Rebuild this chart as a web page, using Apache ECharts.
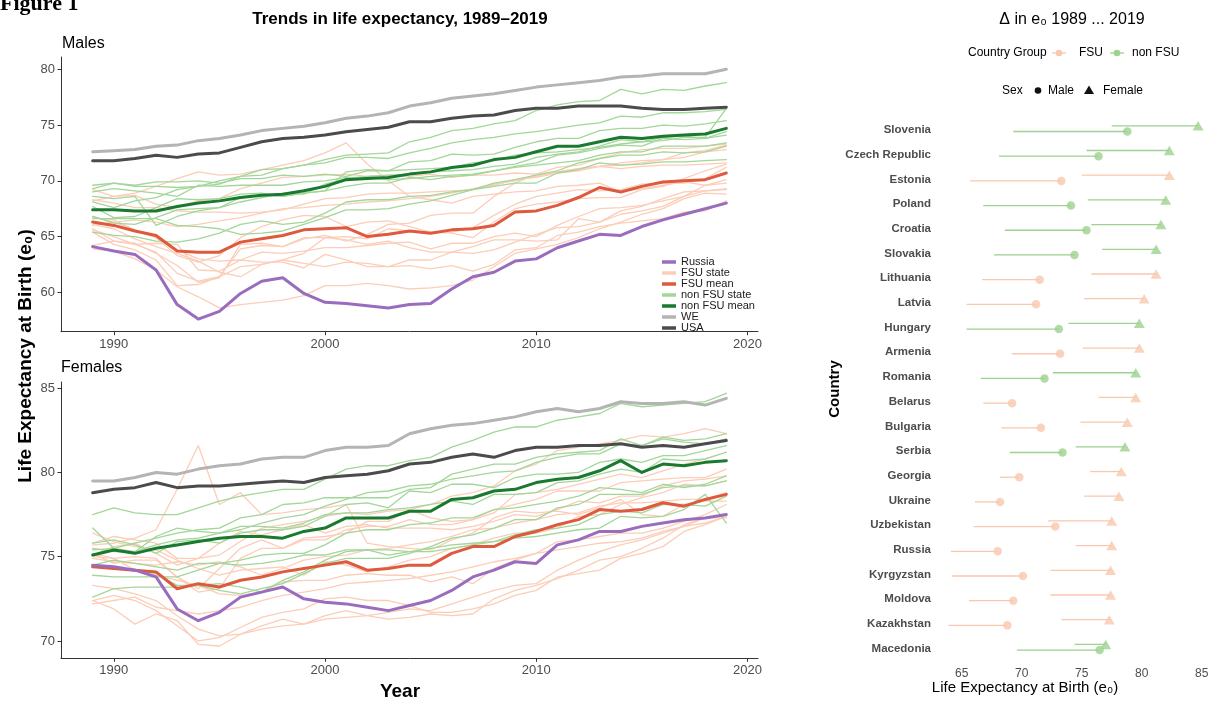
<!DOCTYPE html>
<html>
<head>
<meta charset="utf-8">
<script src="https://cdn.jsdelivr.net/npm/echarts@6/dist/echarts.min.js"></script>
<style>
html, body { margin: 0; padding: 0; background: #ffffff; }
#chart { width: 1216px; height: 702px; }
</style>
</head>
<body>
<div id="chart"></div>
<script>
// Years covered by every series
const years = [1989, 1990, 1991, 1992, 1993, 1994, 1995, 1996, 1997, 1998,
  1999, 2000, 2001, 2002, 2003, 2004, 2005, 2006, 2007, 2008,
  2009, 2010, 2011, 2012, 2013, 2014, 2015, 2016, 2017, 2018, 2019];

// Highlighted series (life expectancy at birth, years)
const russiaMale = [64.1, 63.7, 63.4, 62.0, 58.9, 57.6, 58.3, 59.9, 61.0, 61.3,
  59.9, 59.1, 59.0, 58.8, 58.6, 58.9, 59.0, 60.3, 61.4, 61.8,
  62.8, 63.0, 64.0, 64.6, 65.2, 65.1, 65.9, 66.5, 67.0, 67.5, 68.0];
const russiaFemale = [74.5, 74.4, 74.2, 73.8, 71.9, 71.2, 71.7, 72.6, 72.9, 73.2,
  72.5, 72.3, 72.2, 72.0, 71.8, 72.1, 72.4, 73.0, 73.8, 74.2,
  74.7, 74.6, 75.7, 76.0, 76.5, 76.5, 76.8, 77.0, 77.2, 77.3, 77.5];
const fsuMeanMale = [66.3, 66.0, 65.5, 65.1, 63.7, 63.6, 63.6, 64.5, 64.8, 65.1,
  65.6, 65.7, 65.8, 65.0, 65.2, 65.5, 65.3, 65.6, 65.7, 66.0,
  67.2, 67.3, 67.8, 68.5, 69.4, 69.0, 69.5, 69.9, 70.0, 70.1, 70.7];
const fsuMeanFemale = [74.4, 74.3, 74.2, 74.1, 73.1, 73.4, 73.2, 73.6, 73.8, 74.1,
  74.3, 74.5, 74.7, 74.2, 74.3, 74.5, 74.5, 75.2, 75.6, 75.6,
  76.2, 76.5, 76.9, 77.2, 77.8, 77.7, 77.8, 78.2, 78.0, 78.4, 78.7];
const nonFsuMeanMale = [67.4, 67.4, 67.3, 67.3, 67.7, 68.0, 68.2, 68.5, 68.7, 68.8,
  69.1, 69.5, 70.1, 70.2, 70.3, 70.6, 70.8, 71.2, 71.4, 71.9,
  72.1, 72.6, 73.1, 73.1, 73.5, 73.9, 73.8, 74.0, 74.1, 74.2, 74.7];
const nonFsuMeanFemale = [75.1, 75.4, 75.2, 75.5, 75.7, 75.9, 76.1, 76.2, 76.2, 76.1,
  76.5, 76.7, 77.3, 77.3, 77.3, 77.7, 77.7, 78.4, 78.5, 78.9,
  79.0, 79.4, 79.6, 79.7, 80.1, 80.7, 80.0, 80.5, 80.4, 80.6, 80.7];
const weMale = [72.6, 72.7, 72.8, 73.1, 73.2, 73.6, 73.8, 74.1, 74.5, 74.7,
  74.9, 75.2, 75.6, 75.8, 76.1, 76.7, 77.0, 77.4, 77.6, 77.8,
  78.1, 78.4, 78.6, 78.8, 79.0, 79.3, 79.4, 79.6, 79.6, 79.6, 80.0];
const weFemale = [79.5, 79.5, 79.7, 80.0, 79.9, 80.2, 80.4, 80.5, 80.8, 80.9,
  80.9, 81.3, 81.5, 81.5, 81.6, 82.3, 82.6, 82.8, 82.9, 83.1,
  83.3, 83.6, 83.8, 83.6, 83.8, 84.2, 84.1, 84.1, 84.2, 84.0, 84.4];
const usaMale = [71.8, 71.8, 72.0, 72.3, 72.1, 72.4, 72.5, 73.0, 73.5, 73.8,
  73.9, 74.1, 74.4, 74.6, 74.8, 75.3, 75.3, 75.6, 75.8, 75.9,
  76.3, 76.5, 76.5, 76.7, 76.7, 76.7, 76.5, 76.4, 76.4, 76.5, 76.6];
const usaFemale = [78.8, 79.0, 79.1, 79.4, 79.1, 79.2, 79.2, 79.3, 79.4, 79.5,
  79.4, 79.7, 79.8, 79.9, 80.1, 80.5, 80.6, 80.9, 81.1, 80.9,
  81.3, 81.5, 81.5, 81.6, 81.6, 81.7, 81.5, 81.6, 81.5, 81.7, 81.9];

// Former Soviet Union (and grouped) states
const estoniaMale = [65.7, 64.6, 64.4, 63.5, 62.4, 60.9, 61.3, 64.3, 64.4, 64.1,
  64.8, 65.1, 64.6, 65.2, 66.1, 66.2, 66.9, 67.1, 67.1, 68.6,
  69.8, 70.6, 71.2, 71.4, 72.0, 72.5, 72.8, 72.9, 72.9, 73.1, 73.3];
const estoniaFemale = [75.0, 74.9, 75.0, 74.9, 73.8, 73.1, 74.3, 75.5, 76.0, 75.5,
  76.1, 76.2, 76.4, 77.1, 77.1, 77.8, 78.1, 78.6, 78.8, 79.2,
  80.1, 80.5, 81.3, 81.5, 81.7, 81.9, 82.2, 82.1, 82.3, 82.6, 82.3];
const lithuaniaMale = [66.7, 66.5, 65.6, 64.9, 63.3, 62.7, 63.3, 64.9, 65.9, 66.5,
  66.9, 66.8, 65.9, 66.3, 66.4, 65.9, 65.4, 65.3, 64.9, 66.3,
  67.5, 67.9, 68.1, 68.4, 68.5, 68.5, 69.2, 69.5, 70.2, 70.9, 71.5];
const lithuaniaFemale = [75.8, 76.2, 76.0, 75.8, 74.9, 74.9, 75.1, 75.9, 76.7, 76.9,
  77.1, 77.4, 77.6, 77.5, 77.7, 77.8, 77.3, 77.1, 77.2, 77.6,
  78.7, 78.8, 79.0, 79.3, 79.6, 79.9, 79.7, 80.1, 80.5, 80.8, 81.2];
const latviaMale = [65.4, 64.3, 63.8, 62.9, 60.6, 60.7, 61.4, 63.9, 64.2, 64.1,
  64.9, 64.9, 65.0, 64.8, 65.7, 65.5, 65.4, 65.4, 65.8, 66.9,
  67.9, 68.6, 68.9, 69.2, 69.1, 69.2, 69.7, 69.8, 69.8, 70.2, 71.2];
const latviaFemale = [75.2, 74.6, 74.8, 74.8, 73.8, 72.9, 73.1, 74.9, 75.5, 75.5,
  76.0, 76.0, 76.6, 76.8, 76.8, 77.2, 76.9, 76.9, 77.2, 77.8,
  78.1, 78.4, 78.9, 78.9, 78.9, 79.4, 79.5, 79.6, 79.7, 79.7, 80.2];
const armeniaMale = [69.2, 68.6, 68.7, 67.9, 67.6, 68.2, 68.4, 69.3, 69.8, 70.3,
  70.4, 70.5, 70.6, 70.4, 70.5, 70.4, 70.6, 70.3, 70.5, 70.5,
  70.7, 70.6, 70.8, 71.1, 71.3, 71.4, 71.6, 71.9, 72.5, 72.7, 73.2];
const armeniaFemale = [75.1, 75.6, 75.8, 75.2, 74.5, 74.9, 75.8, 76.5, 76.3, 76.6,
  76.9, 76.4, 76.8, 76.9, 76.7, 76.7, 76.7, 76.6, 76.8, 77.1,
  77.5, 77.4, 77.8, 78.3, 78.2, 78.6, 78.6, 79.2, 79.5, 79.6, 79.8];
const belarusMale = [66.8, 66.3, 65.6, 64.9, 63.8, 63.0, 62.8, 62.9, 62.7, 62.7,
  62.2, 63.4, 62.9, 62.3, 62.3, 62.9, 62.9, 63.6, 64.1, 64.7,
  64.7, 64.6, 64.7, 66.6, 66.3, 67.3, 67.7, 68.4, 69.0, 69.1, 69.2];
const belarusFemale = [76.4, 75.9, 75.6, 75.4, 74.8, 74.3, 73.9, 74.2, 74.3, 74.4,
  73.9, 74.7, 74.5, 74.1, 74.4, 74.8, 75.0, 75.5, 75.7, 76.1,
  76.4, 76.4, 76.7, 77.4, 77.5, 78.1, 78.5, 78.8, 79.3, 79.2, 79.5];
const bulgariaMale = [68.3, 68.0, 67.6, 67.6, 67.3, 67.2, 67.2, 67.1, 67.2, 67.4,
  67.9, 68.4, 68.5, 68.8, 68.9, 68.9, 69.0, 69.1, 69.2, 69.6,
  70.1, 70.3, 70.7, 70.9, 71.3, 71.1, 71.3, 71.4, 71.4, 71.5, 71.6];
const bulgariaFemale = [74.9, 74.7, 74.6, 74.5, 74.7, 74.5, 74.7, 74.4, 73.9, 74.3,
  74.8, 75.0, 75.1, 75.4, 75.5, 75.7, 75.9, 76.2, 76.6, 76.7,
  77.0, 77.2, 77.5, 77.6, 78.0, 78.2, 78.2, 78.3, 78.4, 78.4, 78.8];
const georgiaMale = [68.2, 68.6, 68.9, 69.5, 70.2, 70.8, 70.5, 70.6, 71.0, 71.4,
  71.8, 72.5, 73.4, 71.5, 70.0, 68.6, 68.3, 68.0, 68.6, 68.8,
  69.0, 69.1, 69.5, 69.6, 69.8, 69.0, 69.3, 69.6, 69.9, 69.6, 69.8];
const georgiaFemale = [75.7, 75.8, 76.1, 76.6, 79.0, 81.6, 78.1, 78.8, 77.5, 77.6,
  77.8, 77.9, 78.1, 75.8, 75.6, 75.5, 75.4, 76.0, 76.4, 77.3,
  77.7, 77.6, 77.7, 77.5, 77.9, 78.4, 77.5, 77.4, 78.1, 78.3, 78.3];
const ukraineMale = [66.1, 65.7, 64.8, 64.1, 63.5, 62.8, 61.8, 61.4, 62.5, 62.9,
  62.6, 62.3, 62.7, 62.6, 62.3, 62.4, 62.1, 62.4, 61.9, 62.5,
  63.8, 64.0, 65.1, 65.4, 65.9, 66.2, 66.4, 66.6, 67.2, 67.3, 68.2];
const ukraineFemale = [75.2, 74.9, 74.2, 73.9, 73.6, 73.3, 72.8, 72.7, 72.9, 73.5,
  73.6, 73.6, 73.9, 74.0, 73.9, 73.9, 73.5, 73.8, 73.4, 74.3,
  74.8, 75.2, 75.9, 76.0, 76.2, 76.4, 76.4, 76.7, 77.1, 77.5, 78.1];
const uzbekistanMale = [66.0, 66.3, 66.5, 66.3, 65.9, 66.1, 66.4, 66.7, 67.1, 67.5,
  67.6, 67.8, 67.9, 68.1, 68.2, 68.4, 68.6, 68.9, 69.3, 69.7,
  70.0, 70.4, 70.8, 71.1, 71.3, 71.6, 71.8, 71.9, 72.1, 72.6, 72.8];
const uzbekistanFemale = [72.2, 72.4, 72.6, 72.0, 71.8, 71.6, 71.8, 72.0, 72.4, 72.7,
  72.9, 73.1, 73.4, 73.5, 73.6, 73.7, 73.9, 74.1, 74.4, 74.7,
  74.9, 75.2, 75.4, 75.6, 75.8, 75.9, 76.1, 76.5, 76.8, 77.3, 77.5];
const kyrgyzstanMale = [64.2, 64.6, 64.3, 63.6, 61.7, 61.0, 61.4, 62.3, 62.5, 62.9,
  63.5, 64.9, 64.7, 64.3, 64.6, 64.0, 63.6, 63.6, 63.5, 63.8,
  64.5, 65.2, 65.8, 65.9, 66.3, 67.0, 67.3, 67.7, 68.6, 69.6, 70.1];
const kyrgyzstanFemale = [72.4, 72.7, 72.4, 71.8, 70.9, 70.0, 70.2, 70.8, 71.4, 71.7,
  71.9, 72.5, 72.6, 72.4, 72.4, 72.1, 71.7, 71.7, 71.9, 72.2,
  72.7, 73.0, 73.8, 74.0, 74.2, 74.9, 75.2, 75.6, 76.5, 76.9, 77.4];
const moldovaMale = [65.6, 65.0, 64.3, 64.4, 64.3, 62.0, 61.9, 62.9, 63.6, 63.5,
  63.7, 64.0, 64.0, 64.2, 64.4, 64.5, 63.9, 64.4, 64.4, 65.0,
  65.3, 65.0, 66.0, 66.8, 67.5, 67.6, 67.8, 68.2, 68.6, 69.1, 69.3];
const moldovaFemale = [72.4, 71.9, 71.0, 71.6, 71.2, 69.8, 69.7, 70.4, 70.9, 71.3,
  71.0, 71.3, 71.4, 71.5, 71.7, 71.9, 71.8, 72.2, 72.6, 73.0,
  73.3, 73.4, 74.2, 74.8, 75.3, 75.7, 76.0, 76.4, 76.8, 77.0, 77.4];
const kazakhstanMale = [63.9, 63.7, 63.0, 62.0, 60.5, 59.6, 58.6, 58.9, 59.1, 59.3,
  59.7, 60.6, 60.6, 60.8, 60.6, 60.3, 60.4, 60.6, 61.1, 62.3,
  63.5, 63.9, 64.3, 64.9, 65.7, 66.3, 67.0, 67.5, 68.4, 68.9, 68.8];
const kazakhstanFemale = [73.3, 73.1, 72.8, 72.4, 71.5, 70.7, 70.3, 70.4, 70.7, 70.9,
  71.0, 71.5, 71.8, 71.5, 71.3, 71.4, 71.6, 71.5, 71.6, 72.5,
  73.0, 73.3, 73.7, 74.2, 74.8, 75.0, 75.5, 76.1, 76.9, 77.3, 77.3];

// Central and Eastern European states outside the FSU group
const sloveniaMale = [69.3, 69.8, 69.5, 69.5, 69.4, 69.5, 70.0, 70.4, 71.0, 71.1,
  71.4, 71.9, 72.3, 72.4, 72.5, 73.5, 73.9, 74.5, 74.7, 75.1,
  75.4, 76.3, 76.8, 77.1, 77.2, 78.2, 77.8, 78.2, 78.1, 78.5, 78.8];
const sloveniaFemale = [77.5, 77.9, 77.6, 77.5, 77.5, 77.9, 78.3, 78.6, 78.8, 79.0,
  79.0, 79.6, 80.2, 80.4, 80.4, 80.7, 80.9, 81.5, 81.9, 82.4,
  82.7, 82.7, 83.1, 83.3, 83.5, 84.1, 83.9, 84.0, 84.1, 84.2, 84.7];
const czechMale = [68.1, 67.6, 68.2, 68.5, 69.2, 69.5, 69.7, 70.4, 70.5, 71.1,
  71.4, 71.6, 72.1, 72.1, 72.0, 72.5, 72.9, 73.4, 73.7, 73.9,
  74.2, 74.4, 74.7, 75.0, 75.2, 75.8, 75.7, 76.1, 76.1, 76.2, 76.4];
const czechFemale = [75.4, 75.5, 75.8, 76.1, 76.4, 76.6, 76.7, 77.3, 77.5, 78.1,
  78.2, 78.5, 78.5, 78.5, 78.5, 79.0, 79.1, 79.9, 80.2, 80.5,
  80.5, 80.9, 81.1, 81.2, 81.3, 82.0, 81.6, 82.1, 81.9, 82.0, 82.3];
const polandMale = [66.8, 66.2, 66.1, 66.7, 67.4, 67.5, 67.6, 68.1, 68.5, 68.9,
  68.8, 69.7, 70.2, 70.4, 70.5, 70.6, 70.8, 70.9, 71.0, 71.3,
  71.5, 72.1, 72.4, 72.6, 73.1, 73.7, 73.5, 73.9, 74.0, 73.8, 74.1];
const polandFemale = [75.5, 75.3, 75.3, 75.7, 76.0, 76.1, 76.4, 76.6, 77.0, 77.3,
  77.5, 78.0, 78.4, 78.8, 78.9, 79.2, 79.3, 79.6, 79.8, 80.0,
  80.1, 80.6, 80.9, 81.1, 81.1, 81.7, 81.6, 82.0, 81.8, 81.7, 82.0];
const croatiaMale = [68.6, 68.4, 68.6, 66.0, 66.8, 67.3, 67.6, 68.5, 68.7, 68.6,
  68.9, 69.1, 70.8, 71.0, 70.9, 71.7, 71.8, 72.4, 72.3, 72.4,
  73.0, 73.5, 73.8, 73.8, 74.5, 74.7, 74.7, 75.0, 74.9, 75.1, 75.4];
const croatiaFemale = [75.8, 76.0, 75.7, 75.2, 75.9, 76.0, 75.8, 76.4, 76.6, 76.6,
  76.8, 77.4, 78.1, 78.2, 77.9, 78.9, 78.8, 79.3, 79.3, 79.1,
  79.7, 79.9, 79.9, 80.0, 80.6, 80.8, 80.6, 81.0, 81.0, 81.3, 81.6];
const slovakiaMale = [67.7, 66.7, 66.8, 67.6, 68.4, 68.3, 68.4, 68.8, 68.9, 68.6,
  68.9, 69.1, 69.5, 69.8, 69.8, 70.3, 70.1, 70.4, 70.5, 70.9,
  71.3, 71.6, 72.3, 72.5, 72.9, 73.2, 73.1, 73.8, 73.7, 73.8, 74.4];
const slovakiaFemale = [76.7, 75.5, 75.3, 76.2, 76.7, 76.5, 76.4, 76.8, 76.8, 76.7,
  77.0, 77.5, 77.6, 77.6, 77.8, 77.9, 78.1, 78.3, 78.1, 78.7,
  78.7, 78.8, 79.4, 79.5, 79.9, 80.2, 80.0, 80.8, 80.7, 80.8, 81.2];
const hungaryMale = [65.4, 65.1, 65.0, 64.6, 64.5, 64.8, 65.3, 66.1, 66.4, 66.1,
  66.3, 67.1, 68.1, 68.3, 68.3, 68.6, 68.7, 69.0, 69.2, 69.8,
  70.1, 70.5, 70.9, 71.6, 72.0, 72.3, 72.3, 72.6, 72.5, 72.6, 73.1];
const hungaryFemale = [73.9, 73.8, 73.8, 73.8, 73.8, 74.2, 74.6, 74.8, 75.1, 75.2,
  75.2, 75.7, 76.4, 76.6, 76.6, 76.9, 77.0, 77.3, 77.3, 77.8,
  77.9, 78.1, 78.3, 78.6, 79.1, 79.0, 78.8, 79.3, 79.1, 79.3, 79.8];
const romaniaMale = [66.6, 66.6, 66.6, 66.6, 66.0, 65.9, 65.7, 65.2, 65.3, 65.5,
  66.1, 66.7, 67.4, 67.4, 67.5, 67.9, 68.2, 68.7, 69.2, 69.5,
  69.8, 69.8, 70.7, 71.0, 71.6, 71.4, 71.5, 71.7, 71.7, 71.8, 71.9];
const romaniaFemale = [72.6, 73.1, 73.2, 73.2, 73.2, 73.3, 73.0, 72.8, 73.1, 73.4,
  74.0, 74.6, 74.9, 74.9, 74.9, 75.2, 75.6, 76.1, 76.3, 76.7,
  77.2, 77.2, 77.9, 78.1, 78.7, 78.7, 78.7, 79.1, 79.2, 79.2, 79.5];
const serbiaMale = [69.0, 69.3, 69.1, 68.9, 68.6, 69.6, 69.5, 69.6, 69.6, 69.6,
  69.9, 70.0, 70.3, 70.3, 70.1, 70.2, 70.4, 70.5, 70.6, 70.9,
  71.2, 71.4, 71.6, 71.8, 72.3, 72.6, 72.6, 73.1, 73.1, 73.1, 73.4];
const serbiaFemale = [74.5, 74.8, 74.6, 74.4, 74.2, 74.6, 74.6, 74.5, 74.6, 74.8,
  75.1, 75.1, 75.4, 75.4, 75.4, 75.3, 75.3, 75.5, 75.7, 75.9,
  76.3, 76.6, 76.7, 76.9, 77.5, 77.7, 77.6, 78.1, 78.1, 78.0, 78.6];
const macedoniaMale = [69.6, 69.8, 69.6, 69.9, 69.9, 70.0, 69.8, 70.2, 70.2, 70.5,
  70.4, 70.6, 70.4, 70.9, 70.9, 71.0, 71.1, 71.2, 71.6, 71.8,
  72.3, 72.5, 72.6, 72.8, 73.0, 73.3, 73.5, 73.6, 73.9, 73.9, 76.5];
const macedoniaFemale = [74.4, 74.3, 74.2, 74.0, 73.3, 73.3, 73.4, 73.2, 72.9, 73.6,
  74.1, 74.8, 75.3, 75.4, 75.1, 75.3, 75.5, 75.7, 75.8, 75.9,
  76.1, 76.2, 76.4, 76.6, 76.7, 77.4, 77.3, 77.4, 77.8, 78.7, 77.0];

// Country order in the change panel (top to bottom) and group membership
const countryNames = ['Slovenia', 'Czech Republic', 'Estonia', 'Poland', 'Croatia', 'Slovakia',
  'Lithuania', 'Latvia', 'Hungary', 'Armenia', 'Romania', 'Belarus', 'Bulgaria', 'Serbia',
  'Georgia', 'Ukraine', 'Uzbekistan', 'Russia', 'Kyrgyzstan', 'Moldova', 'Kazakhstan', 'Macedonia'];
const countryGroups = ['non FSU', 'non FSU', 'FSU', 'non FSU', 'non FSU', 'non FSU',
  'FSU', 'FSU', 'non FSU', 'FSU', 'non FSU', 'FSU', 'FSU', 'non FSU',
  'FSU', 'FSU', 'FSU', 'FSU', 'FSU', 'FSU', 'FSU', 'non FSU'];
const maleSeries = [sloveniaMale, czechMale, estoniaMale, polandMale, croatiaMale, slovakiaMale,
  lithuaniaMale, latviaMale, hungaryMale, armeniaMale, romaniaMale, belarusMale, bulgariaMale, serbiaMale,
  georgiaMale, ukraineMale, uzbekistanMale, russiaMale, kyrgyzstanMale, moldovaMale, kazakhstanMale, macedoniaMale];
const femaleSeries = [sloveniaFemale, czechFemale, estoniaFemale, polandFemale, croatiaFemale, slovakiaFemale,
  lithuaniaFemale, latviaFemale, hungaryFemale, armeniaFemale, romaniaFemale, belarusFemale, bulgariaFemale, serbiaFemale,
  georgiaFemale, ukraineFemale, uzbekistanFemale, russiaFemale, kyrgyzstanFemale, moldovaFemale, kazakhstanFemale, macedoniaFemale];

const legendNames = ['Russia', 'FSU state', 'FSU mean', 'non FSU state', 'non FSU mean', 'WE', 'USA'];
const yearTicks = [1990, 2000, 2010, 2020];
const maleTicks = [60, 65, 70, 75, 80];
const femaleTicks = [70, 75, 80, 85];
const changeTicks = [65, 70, 75, 80, 85];

// ---------- styling ----------
const FONT = '"Liberation Sans", Arial, Helvetica, sans-serif';
const COL = {
  russia: '#9a6cbe',
  fsuState: '#fccdb8',
  fsuMean: '#dd5a3e',
  nonState: '#a3d699',
  nonMean: '#18792f',
  we: '#b4b4b4',
  usa: '#4b4b4b'
};
const DOT = { 'FSU': '#f9c8ae', 'non FSU': '#9dd28f' };

function toPoints(arr) {
  return years.map((y, i) => [y, arr[i]]);
}

function trend(name, color, width, arr, panel) {
  return {
    type: 'line', name: name, xAxisIndex: panel, yAxisIndex: panel,
    data: toPoints(arr), symbol: 'none', showSymbol: false, color: color,
    lineStyle: { color: color, width: width, join: 'round', cap: 'round' },
    silent: true, animation: false, emphasis: { disabled: true }
  };
}

const series = [];
[maleSeries, femaleSeries].forEach((set, panel) => {
  set.forEach((arr, i) => {
    if (countryNames[i] === 'Russia') return;
    if (countryGroups[i] === 'FSU') series.push(trend('FSU state', COL.fsuState, 1.3, arr, panel));
  });
  set.forEach((arr, i) => {
    if (countryGroups[i] === 'non FSU') series.push(trend('non FSU state', COL.nonState, 1.3, arr, panel));
  });
});
series.push(trend('FSU mean', COL.fsuMean, 3, fsuMeanMale, 0));
series.push(trend('non FSU mean', COL.nonMean, 3, nonFsuMeanMale, 0));
series.push(trend('WE', COL.we, 3, weMale, 0));
series.push(trend('USA', COL.usa, 3, usaMale, 0));
series.push(trend('Russia', COL.russia, 3, russiaMale, 0));
series.push(trend('FSU mean', COL.fsuMean, 3, fsuMeanFemale, 1));
series.push(trend('non FSU mean', COL.nonMean, 3, nonFsuMeanFemale, 1));
series.push(trend('WE', COL.we, 3, weFemale, 1));
series.push(trend('USA', COL.usa, 3, usaFemale, 1));
series.push(trend('Russia', COL.russia, 3, russiaFemale, 1));

// Change panel: segment from the 1989 value to the 2019 value per sex
const FEMALE_OFF = -0.17, MALE_OFF = 0.06;
const segData = [];
countryNames.forEach((c, i) => {
  const g = countryGroups[i] === 'FSU' ? 0 : 1;
  const m = maleSeries[i], f = femaleSeries[i];
  segData.push([m[0], m[m.length - 1], i + MALE_OFF, g]);
  segData.push([f[0], f[f.length - 1], i + FEMALE_OFF, g]);
});
series.push({
  type: 'custom', xAxisIndex: 2, yAxisIndex: 2, silent: true, animation: false,
  data: segData, encode: { x: [0, 1], y: 2 },
  renderItem: function (params, api) {
    const a = api.coord([api.value(0), api.value(2)]);
    const b = api.coord([api.value(1), api.value(2)]);
    return {
      type: 'line',
      shape: { x1: a[0], y1: a[1], x2: b[0], y2: b[1] },
      style: { stroke: api.value(3) ? DOT['non FSU'] : DOT['FSU'], lineWidth: 1.3 }
    };
  }
});
series.push({
  type: 'scatter', xAxisIndex: 2, yAxisIndex: 2, silent: true, animation: false,
  symbol: 'circle', symbolSize: 8.5,
  data: countryNames.map((c, i) => ({
    value: [maleSeries[i][maleSeries[i].length - 1], i + MALE_OFF],
    itemStyle: { color: DOT[countryGroups[i]] }
  }))
});
series.push({
  type: 'scatter', xAxisIndex: 2, yAxisIndex: 2, silent: true, animation: false,
  symbol: 'triangle', symbolSize: [11, 9.5],
  data: countryNames.map((c, i) => ({
    value: [femaleSeries[i][femaleSeries[i].length - 1], i + FEMALE_OFF],
    itemStyle: { color: DOT[countryGroups[i]] }
  }))
});

// ---------- axes ----------
const axisLineStyle = { show: true, lineStyle: { color: '#333333', width: 1 } };
const tickStyle = { show: true, length: 3.5, lineStyle: { color: '#333333', width: 1 } };
const tickLabel = { color: '#4d4d4d', fontSize: 13, fontFamily: FONT, formatter: function (v) { return String(v); } };

function yearAxis(idx) {
  return {
    type: 'value', gridIndex: idx, min: 1987.5, max: 2020.5,
    axisLine: axisLineStyle,
    axisTick: Object.assign({ customValues: yearTicks }, tickStyle),
    axisLabel: Object.assign({ customValues: yearTicks, margin: 6 }, tickLabel),
    splitLine: { show: false }
  };
}
function leAxis(idx, min, max, ticks) {
  return {
    type: 'value', gridIndex: idx, min: min, max: max,
    axisLine: axisLineStyle,
    axisTick: Object.assign({ customValues: ticks }, tickStyle),
    axisLabel: Object.assign({ customValues: ticks, margin: 6 }, tickLabel),
    splitLine: { show: false }
  };
}

const txt = (x, y, text, font, extra) => Object.assign({
  type: 'text', x: x, y: y,
  style: { text: text, font: font, fill: '#000', textAlign: 'left', textVerticalAlign: 'middle', verticalAlign: 'middle' }
}, extra || {});

const option = {
  backgroundColor: '#ffffff',
  animation: false,
  textStyle: { fontFamily: FONT },
  grid: [
    { left: 61, top: 57, width: 697, height: 274.7 },
    { left: 61, top: 382, width: 697, height: 276.3 },
    { left: 936, top: 115.2, width: 274.6, height: 548.2 }
  ],
  xAxis: [
    yearAxis(0),
    yearAxis(1),
    {
      type: 'value', gridIndex: 2, min: 62.86, max: 85.74,
      axisLine: { show: false }, axisTick: { show: false }, splitLine: { show: false },
      axisLabel: { customValues: changeTicks, color: '#4d4d4d', fontSize: 12, fontFamily: FONT, margin: 4 }
    }
  ],
  yAxis: [
    leAxis(0, 56.47, 81.1, maleTicks),
    leAxis(1, 68.97, 85.37, femaleTicks),
    {
      type: 'value', gridIndex: 2, inverse: true, min: -0.6, max: 21.6,
      axisLine: { show: false }, axisTick: { show: false }, splitLine: { show: false },
      axisLabel: {
        customValues: countryNames.map((c, i) => i),
        formatter: function (v) { return countryNames[Math.round(v)]; },
        color: '#4d4d4d', fontSize: 11.5, fontWeight: 'bold', fontFamily: FONT, margin: 5
      }
    }
  ],
  legend: {
    data: legendNames, orient: 'vertical', left: 662, top: 256.5, padding: 0,
    itemGap: 0, itemWidth: 14, itemHeight: 3.5, icon: 'rect', selectedMode: false,
    textStyle: { fontSize: 11, lineHeight: 10.8, color: '#1a1a1a', fontFamily: FONT }
  },
  graphic: {
    elements: [
      { type: 'text', x: 0, y: 15, style: { text: 'Figure 1', font: 'bold 22px "Liberation Serif", "Times New Roman", serif', fill: '#000', textAlign: 'left', textVerticalAlign: 'bottom', verticalAlign: 'bottom' } },
      txt(400, 19, 'Trends in life expectancy, 1989\u20132019', 'bold 17px ' + FONT, { style: { text: 'Trends in life expectancy, 1989\u20132019', font: 'bold 17px ' + FONT, fill: '#000', textAlign: 'center', textVerticalAlign: 'middle', verticalAlign: 'middle' } }),
      txt(62, 44, 'Males', '16px ' + FONT),
      txt(61, 368, 'Females', '16px ' + FONT),
      { type: 'text', x: 400, y: 692, style: { text: 'Year', font: 'bold 19px ' + FONT, fill: '#000', textAlign: 'center', textVerticalAlign: 'middle', verticalAlign: 'middle' } },
      { type: 'text', x: 26, y: 356, rotation: Math.PI / 2, style: { text: 'Life Expectancy at Birth (e\u2080)', font: 'bold 19px ' + FONT, fill: '#000', textAlign: 'center', textVerticalAlign: 'middle', verticalAlign: 'middle' } },

      { type: 'text', x: 1072, y: 20, style: { text: '\u0394 in e\u2080 1989 ... 2019', font: '16px ' + FONT, fill: '#000', textAlign: 'center', textVerticalAlign: 'middle', verticalAlign: 'middle' } },
      txt(968, 53, 'Country Group', '12px ' + FONT),
      { type: 'line', shape: { x1: 1052, y1: 53, x2: 1066, y2: 53 }, style: { stroke: DOT['FSU'], lineWidth: 1.3 } },
      { type: 'circle', shape: { cx: 1059, cy: 53, r: 3.3 }, style: { fill: DOT['FSU'] } },
      txt(1079, 53, 'FSU', '12px ' + FONT),
      { type: 'line', shape: { x1: 1110, y1: 53, x2: 1124, y2: 53 }, style: { stroke: DOT['non FSU'], lineWidth: 1.3 } },
      { type: 'circle', shape: { cx: 1117, cy: 53, r: 3.3 }, style: { fill: DOT['non FSU'] } },
      txt(1132, 53, 'non FSU', '12px ' + FONT),
      txt(1002, 90.5, 'Sex', '12px ' + FONT),
      { type: 'circle', shape: { cx: 1038, cy: 90.5, r: 3.3 }, style: { fill: '#111' } },
      txt(1048, 90.5, 'Male', '12px ' + FONT),
      { type: 'polygon', shape: { points: [[1089, 85.5], [1094, 94], [1084, 94]] }, style: { fill: '#111' } },
      txt(1103, 90.5, 'Female', '12px ' + FONT),
      { type: 'text', x: 835, y: 389, rotation: Math.PI / 2, style: { text: 'Country', font: 'bold 15px ' + FONT, fill: '#000', textAlign: 'center', textVerticalAlign: 'middle', verticalAlign: 'middle' } },
      { type: 'text', x: 1025, y: 688, style: { text: 'Life Expectancy at Birth (e\u2080)', font: '15px ' + FONT, fill: '#000', textAlign: 'center', textVerticalAlign: 'middle', verticalAlign: 'middle' } }
    ]
  },
  series: series
};

const chart = echarts.init(document.getElementById('chart'), null, { renderer: 'canvas' });
chart.setOption(option);
</script>
</body>
</html>
